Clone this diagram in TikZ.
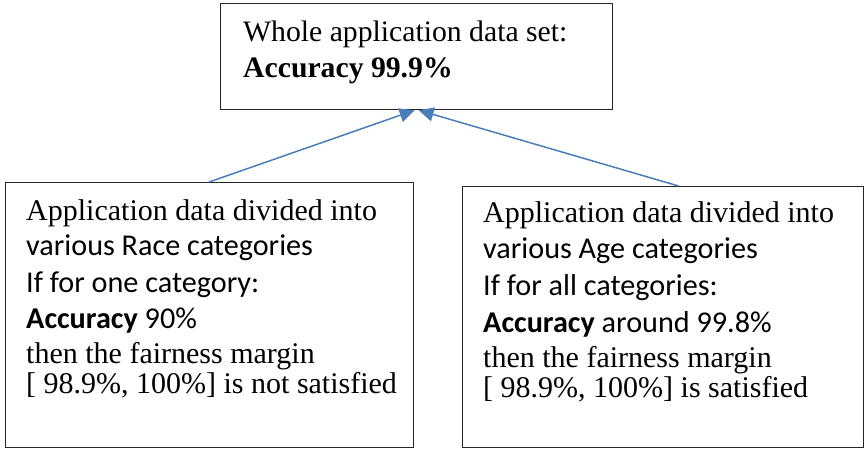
\documentclass[tikz,border=0pt]{standalone}
\usepackage{fontspec}
\setmainfont{Liberation Serif}
\newfontfamily\calibri{Carlito}
\usetikzlibrary{arrows.meta}
\definecolor{linkblue}{HTML}{4A7EBB}

\begin{document}
\begin{tikzpicture}[x=1pt,y=-1pt,
  box/.style={draw=black!85, line width=1.2pt, anchor=north west, inner sep=0pt},
  topline/.style={anchor=base west, inner sep=0pt, font=\fontsize{29.7}{34}\selectfont},
  serifline/.style={anchor=base west, inner sep=0pt, font=\fontsize{30}{34}\selectfont},
  sansline/.style={anchor=base west, inner sep=0pt, font=\calibri\fontsize{30.2}{34}\selectfont},
  link/.style={draw=linkblue, line width=1.5pt, -{Triangle[length=15pt,width=14pt]}}]

\useasboundingbox (0,0) rectangle (865,451);

% boxes
\node[box, minimum width=392pt, minimum height=106pt] (whole) at (220,3) {};
\node[box, minimum width=408pt, minimum height=265pt] (race) at (5,182) {};
\node[box, minimum width=401pt, minimum height=261pt] (age) at (462,186) {};

% top box text
\node[topline] (w1) at (243,41) {Whole application data set:};
\node[topline] (w2) at (243,77) {\bfseries Accuracy 99.9\%};

% race box text
\node[serifline] (r1) at (26,220) {Application data divided into};
\node[sansline]  (r2) at (26,255) {various Race categories};
\node[sansline]  (r3) at (26,292) {If for one category:};
\node[sansline]  (r4) at (26,328) {\bfseries Accuracy\mdseries{} 90\%};
\node[serifline] (r5) at (26,363) {then the fairness margin};
\node[serifline] (r6) at (26,393) {[ 98.9\%, 100\%] is not satisfied};

% age box text
\node[serifline] (a1) at (483,222) {Application data divided into};
\node[sansline]  (a2) at (483,258) {various Age categories};
\node[sansline]  (a3) at (483,295) {If for all categories:};
\node[sansline]  (a4) at (483,332) {\bfseries Accuracy\mdseries{} around 99.8\%};
\node[serifline] (a5) at (483,367) {then the fairness margin};
\node[serifline] (a6) at (483,397) {[ 98.9\%, 100\%] is satisfied};

% connectors
\coordinate (raceTop) at ([xshift=-0.5pt]race.north);
\coordinate (ageTop) at ([xshift=15.5pt]age.north);
\coordinate (tipL) at ([xshift=-2pt]whole.south);
\coordinate (tipR) at ([xshift=2pt]whole.south);
\draw[link] (raceTop) -- (tipL);
\draw[link] (ageTop) -- (tipR);
\end{tikzpicture}
\end{document}
